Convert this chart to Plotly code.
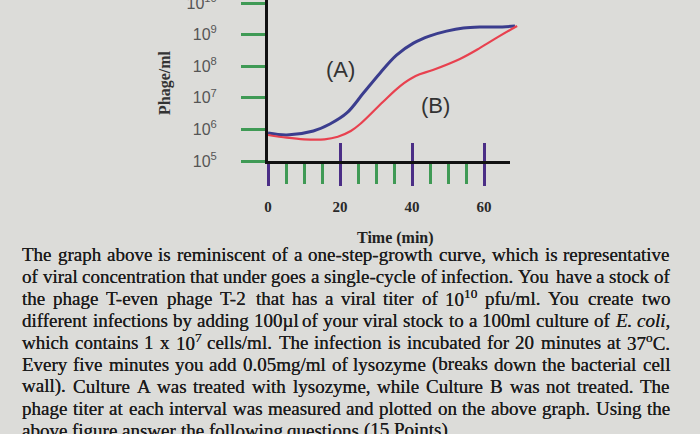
import re
import plotly.graph_objects as go

# ---- data ----
time_a = [0, 5.2, 12.6, 17.2, 21.9, 26.5, 31.1, 35.7, 40.4, 45, 49.6, 54.3, 58.9, 63.5, 68.6]
phage_a = [7.69e5, 6.65e5, 8.91e5, 1.48e6, 3.31e6, 1.41e7, 6.03e7, 2.24e8, 5.37e8, 9.12e8,
           1.29e9, 1.62e9, 1.74e9, 1.74e9, 1.86e9]
time_b = [0, 5.2, 10, 15.7, 19.4, 23, 25.6, 31.9, 36.7, 41, 45.8, 53.3, 58.9, 64.4, 69.2]
phage_b = [6.65e5, 5.46e5, 4.86e5, 4.86e5, 5.87e5, 8.89e5, 1.48e6, 7.36e6, 2.36e7, 4.90e7,
           7.59e7, 1.70e8, 3.80e8, 9.12e8, 1.86e9]

y_tickvals = [1e5, 1e6, 1e7, 1e8, 1e9, 1e10]
y_ticktext = ["10<sup>5</sup>", "10<sup>6</sup>", "10<sup>7</sup>", "10<sup>8</sup>",
              "10<sup>9</sup>", "10<sup>10</sup>"]
x_major = [0, 20, 40, 60]
x_major_labels = ["0", "20", "40", "60"]
x_major_up = [20, 40, 60]
x_minor = [5, 10, 15, 25, 30, 35, 45, 50, 55]

body_lines = [
    "The graph above is reminiscent of a one-step-growth curve, which is representative",
    "of viral concentration that under goes a single-cycle of infection. You have a stock of",
    "the phage T-even phage T-2 that has a viral titer of 10<sup>10</sup> pfu/ml. You create two",
    "different infections by adding 100µl of your viral stock to a 100ml culture of <i>E.</i> <i>coli</i>,",
    "which contains 1 x 10<sup>7</sup> cells/ml. The infection is incubated for 20 minutes at 37<sup>o</sup>C.",
    "Every five minutes you add 0.05mg/ml of lysozyme (breaks down the bacterial cell",
    "wall). Culture A was treated with lysozyme, while Culture B was not treated. The",
    "phage titer at each interval was measured and plotted on the above graph. Using the",
    "above figure answer the following questions (15 Points)",
]
justified = [True, True, True, True, True, True, True, True, False]

# ---- geometry / style ----
W, H = 700, 434
x0_px = 268.0
px_per_min = 3.6
xaxis_end_px = 510.0
x_axis_px = 161.0
px_per_dec = 31.6

BG = "#dcdcd9"
GREEN = "#3f9a55"
PURPLE = "#4b2e86"
BLUE = "#3b3d8e"
RED = "#e8414f"
TXT = "#1c1c1c"
BODY_SIZE = 19
TEXT_LEFT, TEXT_RIGHT = 22, 670

# Times / Liberation Serif advance widths (per 1000 em) for text layout
_TW = {' ': 250, 'a': 444, 'b': 500, 'c': 444, 'd': 500, 'e': 444, 'f': 333, 'g': 500, 'h': 500,
       'i': 278, 'j': 278, 'k': 500, 'l': 278, 'm': 778, 'n': 500, 'o': 500, 'p': 500, 'q': 500,
       'r': 333, 's': 389, 't': 278, 'u': 500, 'v': 500, 'w': 722, 'x': 500, 'y': 500, 'z': 444,
       'A': 722, 'B': 667, 'C': 667, 'D': 722, 'E': 611, 'F': 556, 'G': 722, 'H': 722, 'I': 333,
       'J': 389, 'K': 722, 'L': 611, 'M': 889, 'N': 722, 'O': 722, 'P': 556, 'Q': 722, 'R': 667,
       'S': 556, 'T': 611, 'U': 722, 'V': 722, 'W': 944, 'X': 722, 'Y': 722, 'Z': 611,
       '.': 250, ',': 250, '-': 333, '(': 333, ')': 333, '/': 278, ':': 278, 'µ': 500}


def word_width(word, size):
    w = 0.0
    sup = False
    for part in re.split(r"(</?sup>|</?i>)", word):
        if part == "<sup>":
            sup = True
            continue
        if part == "</sup>":
            sup = False
            continue
        if part in ("<i>", "</i>") or not part:
            continue
        s = size * (0.7 if sup else 1.0)
        w += sum(_TW.get(ch, 500) for ch in part) / 1000.0 * s
    return w


fig = go.Figure()
fig.add_trace(go.Scatter(x=time_a, y=phage_a, mode="lines",
                         line=dict(color=BLUE, width=3, shape="spline", smoothing=1),
                         showlegend=False, hoverinfo="skip"))
fig.add_trace(go.Scatter(x=time_b, y=phage_b, mode="lines",
                         line=dict(color=RED, width=2.2, shape="spline", smoothing=1),
                         showlegend=False, hoverinfo="skip"))
fig.add_trace(go.Scatter(x=[None], y=[None], xaxis="x2", showlegend=False, hoverinfo="skip"))
fig.add_trace(go.Scatter(x=[None], y=[None], xaxis="x3", showlegend=False, hoverinfo="skip"))

main_range = 70.0
dom_x = [x0_px / W, (x0_px + main_range * px_per_min) / W]
ax2_range = (xaxis_end_px - x0_px) / px_per_min
dom_x2 = [x0_px / W, xaxis_end_px / W]
y_top_log = 5 + x_axis_px / px_per_dec

fig.update_layout(
    width=W, height=H, autosize=False,
    margin=dict(l=0, r=0, t=0, b=0, pad=0, autoexpand=False),
    paper_bgcolor=BG, plot_bgcolor="rgba(0,0,0,0)",
    xaxis=dict(domain=dom_x, range=[0, main_range], anchor="y", automargin=False,
               showline=False, showgrid=False, zeroline=False,
               showticklabels=False, ticks=""),
    xaxis2=dict(domain=dom_x2, range=[0, ax2_range], anchor="y", automargin=False,
                showline=True, linecolor="#111111", linewidth=3,
                showgrid=False, zeroline=False,
                tickmode="array", tickvals=x_major, ticktext=x_major_labels,
                ticks="outside", ticklen=22, tickwidth=3, tickcolor=PURPLE,
                ticklabelstandoff=8,
                tickfont=dict(family="Liberation Serif", size=15, color="#2a2a2a", weight="bold"),
                minor=dict(tickmode="array", tickvals=x_minor, ticks="outside",
                           ticklen=20, tickwidth=3, tickcolor=GREEN)),
    xaxis3=dict(domain=dom_x2, range=[0, ax2_range], anchor="y", automargin=False,
                showline=False, showgrid=False, zeroline=False,
                showticklabels=False, tickmode="array", tickvals=x_major_up,
                ticks="inside", ticklen=18, tickwidth=3, tickcolor=PURPLE),
    yaxis=dict(type="log", domain=[(H - x_axis_px) / H, 1], range=[5, y_top_log],
               anchor="x", automargin=False, showline=True, linecolor="#111111", linewidth=3,
               showgrid=False, zeroline=False,
               tickmode="array", tickvals=y_tickvals, ticktext=y_ticktext,
               ticks="outside", ticklen=24, tickwidth=3, tickcolor=GREEN,
               ticklabelstandoff=21, ticklabeloverflow="allow",
               tickfont=dict(family="Liberation Sans", size=16, color="#555555")),
)

ann = []
ann.append(dict(text="<b>Phage/ml</b>", x=165 / W, y=1 - 83 / H, xref="paper", yref="paper",
                textangle=-90, showarrow=False, xanchor="center", yanchor="middle",
                font=dict(family="Liberation Serif", size=16, color="#333333")))
ann.append(dict(text="<b>Time (min)</b>", x=395 / W, y=1 - 238 / H, xref="paper", yref="paper",
                showarrow=False, xanchor="center", yanchor="middle",
                font=dict(family="Liberation Serif", size=16, color="#222222")))
ann.append(dict(text="(A)", x=20, y=7.88, xref="x", yref="y", showarrow=False,
                font=dict(family="Liberation Sans", size=22, color="#333333")))
ann.append(dict(text="(B)", x=46.4, y=6.77, xref="x", yref="y", showarrow=False,
                font=dict(family="Liberation Sans", size=22, color="#333333")))

baseline0 = 259
line_gap = 22
for i, line in enumerate(body_lines):
    yc = baseline0 + i * line_gap - 5
    words = line.split(" ")
    widths = [word_width(w, BODY_SIZE) for w in words]
    if justified[i] and len(words) > 1:
        gap = (TEXT_RIGHT - TEXT_LEFT - sum(widths)) / (len(words) - 1)
    else:
        gap = _TW[' '] / 1000.0 * BODY_SIZE
    xpos = TEXT_LEFT
    for w, ww in zip(words, widths):
        ann.append(dict(text=w, x=xpos / W, y=1 - yc / H, xref="paper", yref="paper",
                        showarrow=False, xanchor="left", yanchor="middle", align="left",
                        borderpad=0, borderwidth=0,
                        font=dict(family="Liberation Serif", size=BODY_SIZE, color=TXT,
                                  shadow="0px 0px 0.6px #1c1c1c")))
        xpos += ww + gap
fig.update_layout(annotations=ann)

fig.write_html(
    "out.html",
    config={"displayModeBar": False},
    post_script="document.body.style.margin='0';document.body.style.background='%s';" % BG,
)
